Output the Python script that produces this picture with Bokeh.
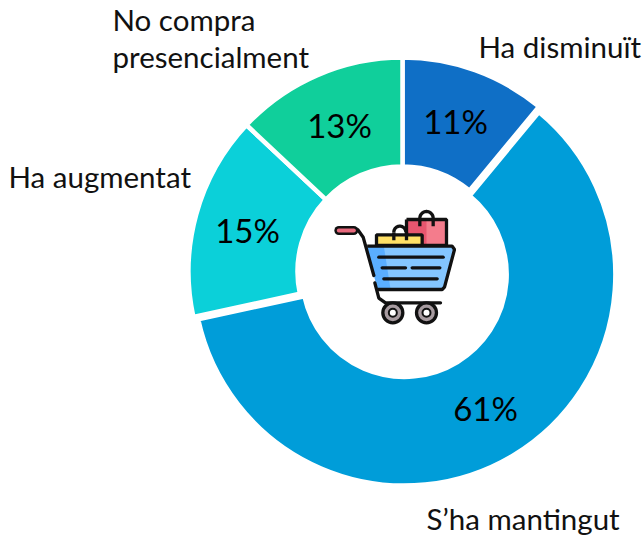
from math import pi
import numpy as np
from bokeh.plotting import figure
from bokeh.core.properties import value
from bokeh.embed import file_html
from bokeh.resources import INLINE

categories = ["Ha disminuït", "S’ha mantingut", "Ha augmentat", "No compra presencialment"]
shares = [11, 60.6, 15.4, 13]
colors = ["#0F6FC6", "#009DD9", "#0BD0D9", "#10CF9B"]
pct_labels = ["11%", "61%", "15%", "13%"]
explode = [0, 3.6, 0, 0]
outer = [214, 211, 214, 214]
inner = [105, 102.3, 105, 105]

W, H = 644, 536
CX, CY = 402, 271
p = figure(width=W, height=H, output_backend="svg", toolbar_location=None,
           x_range=(-CX, W - CX), y_range=(CY - H, CY),
           min_border=0, outline_line_color=None)
p.axis.visible = False
p.grid.visible = False
p.background_fill_color = "white"
p.border_fill_color = "white"

cum = np.cumsum([0] + shares) / sum(shares)
starts = pi / 2 - 2 * pi * cum[1:]
ends = pi / 2 - 2 * pi * cum[:-1]
mids = (starts + ends) / 2
p.annular_wedge(x=list(np.array(explode) * np.cos(mids)), y=list(np.array(explode) * np.sin(mids)),
                inner_radius=inner, outer_radius=outer,
                start_angle=list(starts), end_angle=list(ends), direction="anticlock",
                fill_color=colors, line_color="white", line_width=4.5)

def tx(px): return px - CX
def ty(py): return CY - py

FONT = value("Lato")
pct_x = [455, 485, 247, 339]
pct_y = [120, 407, 229, 124]
p.text(x=[tx(v) for v in pct_x], y=[ty(v) for v in pct_y], text=pct_labels,
       text_font=FONT, text_font_size="33px", text_align="center",
       text_baseline="middle", text_color="black")

cat_text = ["Ha disminuït", "S’ha mantingut", "Ha augmentat", "No compra", "presencialment"]
cat_x = [478, 426, 8, 112, 112]
cat_y = [46, 518, 176, 19, 56]
p.text(x=[tx(v) for v in cat_x], y=[ty(v) for v in cat_y], text=cat_text,
       text_font=FONT, text_font_size="29.5px", text_align="left",
       text_baseline="middle", text_color="#111111")

# Cart icon (decorative, drawn in reference pixels)
def zx(v): return [tx(320 + a / 3) for a in v]
def zy(v): return [ty(195 + a / 3) for a in v]
K = "#111111"
LW = 3.3
# bags
a = np.linspace(pi, 0, 20)
p.line(zx(318 + 20 * np.cos(a)), zy(68 - 20 * np.sin(a)), line_color=K, line_width=LW)
p.patch(zx([258, 378, 378, 258]), zy([72, 72, 150, 150]), fill_color="#E8566F", line_color=None)
p.patch(zx([318, 378, 378, 318]), zy([72, 72, 150, 150]), fill_color="#F47C8C", line_color=None)
p.line(zx([258, 378, 378, 258, 258]), zy([72, 72, 150, 150, 72]), line_color=K, line_width=LW)
p.line(zx([298, 298]), zy([68, 92]), line_color=K, line_width=LW)
p.line(zx([338, 338]), zy([68, 92]), line_color=K, line_width=LW)
p.line(zx(238 + 18 * np.cos(a)), zy(110 - 18 * np.sin(a)), line_color=K, line_width=LW)
p.patch(zx([168, 305, 305, 168]), zy([118, 118, 150, 150]), fill_color="#FFE066", line_color=K, line_width=LW)
p.line(zx([220, 220]), zy([110, 134]), line_color=K, line_width=LW)
p.line(zx([258, 258]), zy([110, 134]), line_color=K, line_width=LW)
# basket
p.patch(zx([140, 400, 370, 170]), zy([152, 152, 280, 280]), fill_color="#84C6FF", line_color=None)
p.patch(zx([140, 190, 210, 170]), zy([152, 152, 280, 280]), fill_color="#5AAEFF", line_color=None)
p.line(zx([140, 395, 402, 372, 365, 172]), zy([152, 152, 162, 275, 282, 282]), line_color=K, line_width=LW)
for xs, ys in [([175, 368], [185, 185]), ([185, 255], [217, 217]),
               ([275, 358], [217, 217]), ([190, 350], [250, 250])]:
    p.line(zx(xs), zy(ys), line_color=K, line_width=LW, line_cap="round")
# frame
p.line(zx([112, 128, 160]), zy([103, 125, 240]), line_color=K, line_width=LW, line_cap="round")
p.line(zx([163, 175, 195, 360]), zy([262, 308, 322, 322]), line_color=K, line_width=LW, line_cap="round")
# handle
p.line(zx([55, 100]), zy([105, 105]), line_color=K, line_width=9, line_cap="round")
p.line(zx([55, 100]), zy([105, 105]), line_color="#E8697D", line_width=4, line_cap="round")
# wheels
p.scatter(zx([217, 318]), zy([352, 352]), size=20, marker="circle", fill_color="#A79BA0", line_color=K, line_width=LW)
p.scatter(zx([217, 318]), zy([352, 352]), size=8, marker="circle", fill_color="white", line_color=K, line_width=2)

open("out.html", "w").write(file_html(p, INLINE))
